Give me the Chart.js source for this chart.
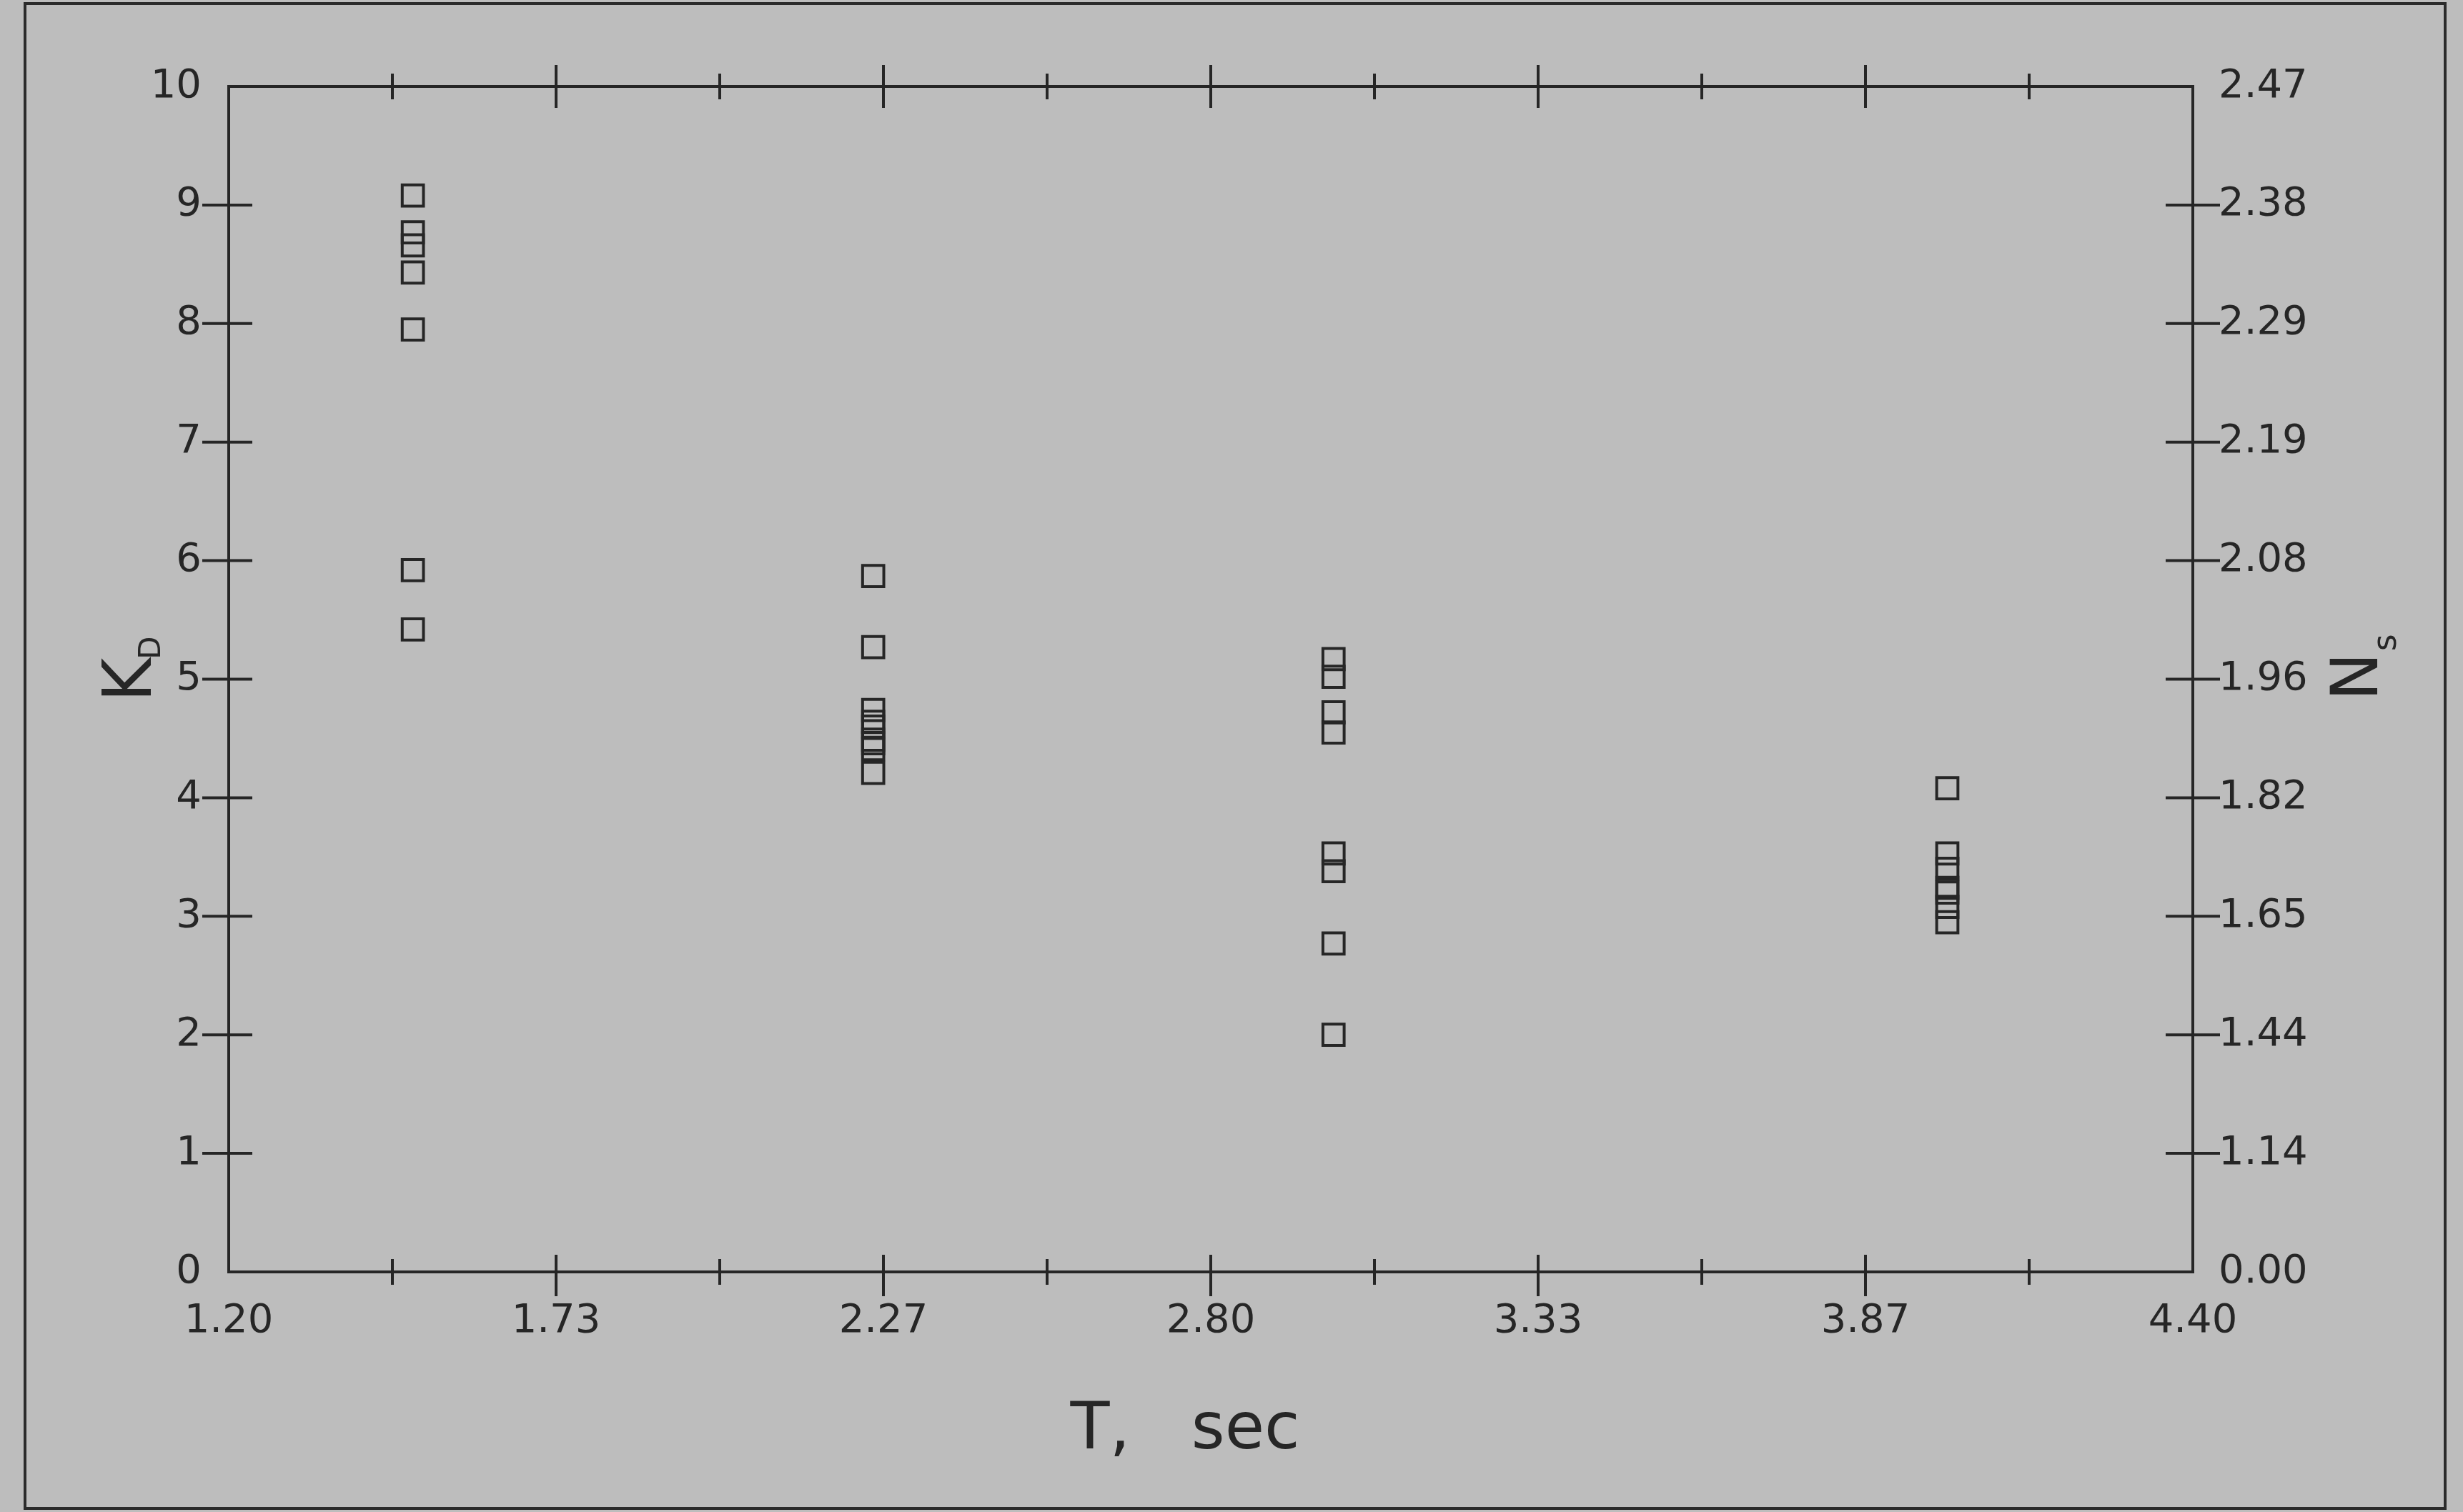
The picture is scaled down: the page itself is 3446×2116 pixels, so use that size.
<!DOCTYPE html>
<html>
<head>
<meta charset="utf-8">
<title>K_D and N_s against T</title>
<script src="https://cdn.jsdelivr.net/npm/chart.js@4.4.1/dist/chart.umd.min.js"></script>
<style>
  html, body { margin: 0; padding: 0; background: #bdbdbd; }
  #wrap { position: relative; width: 3446px; height: 2116px; overflow: hidden; }
  #frame {
    position: absolute; left: 33px; top: 3px; width: 3390px; height: 2110px;
    border: 4px solid #2b2b2b; box-sizing: border-box; pointer-events: none;
  }
  #plot { position: absolute; left: 0; top: 0; }
</style>
</head>
<body>
<div id="wrap">
  <canvas id="plot" width="3446" height="2116"></canvas>
  <div id="frame"></div>
</div>
<script>
/* ------------------------------------------------------------------ */
/*  Data                                            */
/* ------------------------------------------------------------------ */

// wave periods (sec) at which K_D was measured
var T_VALUES = [1.50, 2.25, 3.00, 4.00];

// K_D values in each column of squares
var KD_AT_150 = [9.08, 8.77, 8.66, 8.43, 7.95, 5.92, 5.42];
var KD_AT_225 = [5.87, 5.27, 4.74, 4.64, 4.60, 4.49, 4.46, 4.41, 4.21];
var KD_AT_300 = [5.17, 5.02, 4.72, 4.55, 3.53, 3.38, 2.77, 2.00];
var KD_AT_400 = [4.08, 3.53, 3.40, 3.24, 3.20, 3.08, 2.95];

// axis ranges and tick labels
var X_MIN = 1.20;
var X_MAX = 4.40;
var X_TICK_LABELS = ['1.20', '1.73', '2.27', '2.80', '3.33', '3.87', '4.40'];
var KD_MIN = 0;
var KD_MAX = 10;
var NS_TICK_LABELS = ['0.00', '1.14', '1.44', '1.65', '1.82', '1.96',
                      '2.08', '2.19', '2.29', '2.38', '2.47'];

/* ------------------------------------------------------------------ */
/*  Styling                                                           */
/* ------------------------------------------------------------------ */

var INK = '#262626';
var FONT = '"DejaVu Sans", "Liberation Sans", sans-serif';
var TICK_FONT = { family: FONT, size: 56 };

var MAJOR_TICK = 30;
var MINOR_TICK = 18;

/* ------------------------------------------------------------------ */
/*  Helpers                                                           */
/* ------------------------------------------------------------------ */

function toPoints(t, values) {
  return values.map(function (v) { return { x: t, y: v }; });
}

function squareDataset(t, values) {
  return {
    data: toPoints(t, values),
    pointStyle: 'rect',
    pointRadius: 21,
    pointBorderWidth: 4,
    pointBorderColor: INK,
    pointBackgroundColor: 'rgba(0,0,0,0)',
    showLine: false,
  };
}

function line(ctx, x1, y1, x2, y2) {
  ctx.beginPath();
  ctx.moveTo(x1, y1);
  ctx.lineTo(x2, y2);
  ctx.stroke();
}

/** Evenly spaced x tick values from X_MIN to X_MAX, one per label. */
function xTickValues() {
  var step = (X_MAX - X_MIN) / (X_TICK_LABELS.length - 1);
  return X_TICK_LABELS.map(function (_, i) { return X_MIN + i * step; });
}

/* ------------------------------------------------------------------ */
/*  Box, tick marks and axis titles                                   */
/* ------------------------------------------------------------------ */

var axisFramePlugin = {
  id: 'axisFrame',
  beforeDatasetsDraw: function (chart) {
    var ctx = chart.ctx;
    var a = chart.chartArea;
    var xs = chart.scales.x;
    var ys = chart.scales.y;

    ctx.save();
    ctx.strokeStyle = INK;
    ctx.lineWidth = 4;
    ctx.strokeRect(a.left, a.top, a.right - a.left, a.bottom - a.top);

    // x ticks, top and bottom, major at labels and minor half way
    var vals = xTickValues();
    for (var i = 0; i < vals.length - 1; i++) {
      var mid = xs.getPixelForValue((vals[i] + vals[i + 1]) / 2);
      line(ctx, mid, a.bottom - MINOR_TICK, mid, a.bottom + MINOR_TICK);
      line(ctx, mid, a.top - MINOR_TICK, mid, a.top + MINOR_TICK);
      if (i > 0) {
        var px = xs.getPixelForValue(vals[i]);
        line(ctx, px, a.bottom - MAJOR_TICK + 6, px, a.bottom + MAJOR_TICK + 4);
        line(ctx, px, a.top - MAJOR_TICK, px, a.top + MAJOR_TICK);
      }
    }

    // y ticks crossing both vertical axes
    for (var v = KD_MIN + 1; v < KD_MAX; v++) {
      var py = ys.getPixelForValue(v);
      line(ctx, a.left - 37, py, a.left + 33, py);
      line(ctx, a.right - 38, py, a.right + 38, py);
    }
    ctx.restore();
  },
  afterDraw: function (chart) {
    var ctx = chart.ctx;
    var a = chart.chartArea;
    ctx.save();
    ctx.fillStyle = INK;

    // x title
    ctx.font = '90px ' + FONT;
    ctx.textAlign = 'center';
    ctx.textBaseline = 'alphabetic';
    ctx.fillText('T,   sec', (a.left + a.right) / 2 - 36, a.bottom + 247);

    // left title K_D, reading upward
    ctx.textAlign = 'left';
    ctx.save();
    ctx.translate(a.left - 109, (a.top + a.bottom) / 2 + 32);
    ctx.rotate(-Math.PI / 2);
    ctx.font = '94px ' + FONT;
    ctx.fillText('K', 0, 0);
    var kw = ctx.measureText('K').width;
    ctx.font = '42px ' + FONT;
    ctx.fillText('D', kw - 2, 13);
    ctx.restore();

    // right title N_s, reading upward
    ctx.save();
    ctx.translate(a.right + 258, (a.top + a.bottom) / 2 + 30);
    ctx.rotate(-Math.PI / 2);
    ctx.font = '90px ' + FONT;
    ctx.fillText('N', 0, 0);
    var nw = ctx.measureText('N').width;
    ctx.font = '46px ' + FONT;
    ctx.fillText('s', nw + 2, 26);
    ctx.restore();

    ctx.restore();
  },
};

/* ------------------------------------------------------------------ */
/*  Chart                                                             */
/* ------------------------------------------------------------------ */

var datasets = [
  squareDataset(T_VALUES[0], KD_AT_150),
  squareDataset(T_VALUES[1], KD_AT_225),
  squareDataset(T_VALUES[2], KD_AT_300),
  squareDataset(T_VALUES[3], KD_AT_400),
];

new Chart(document.getElementById('plot').getContext('2d'), {
  type: 'scatter',
  data: { datasets: datasets },
  plugins: [axisFramePlugin],
  options: {
    responsive: false,
    devicePixelRatio: 1,
    animation: false,
    events: [],
    layout: { padding: { top: 121, left: 0, right: 0, bottom: 0 } },
    plugins: { legend: { display: false }, tooltip: { enabled: false } },
    scales: {
      x: {
        type: 'linear',
        position: 'bottom',
        min: X_MIN,
        max: X_MAX,
        grid: { display: false, drawTicks: false },
        border: { display: false },
        afterBuildTicks: function (axis) {
          axis.ticks = xTickValues().map(function (v) { return { value: v }; });
        },
        afterFit: function (axis) { axis.height = 336; },
        ticks: {
          color: INK,
          font: TICK_FONT,
          padding: 36,
          maxRotation: 0,
          autoSkip: false,
          callback: function (v, i) { return X_TICK_LABELS[i]; },
        },
      },
      y: {
        type: 'linear',
        position: 'left',
        min: KD_MIN,
        max: KD_MAX,
        grid: { display: false, drawTicks: false },
        border: { display: false },
        afterFit: function (axis) { axis.width = 320; },
        ticks: {
          stepSize: 1,
          color: INK,
          font: TICK_FONT,
          padding: 38,
          callback: function (v) { return String(v); },
        },
      },
      y2: {
        type: 'linear',
        position: 'right',
        min: KD_MIN,
        max: KD_MAX,
        grid: { display: false, drawTicks: false },
        border: { display: false },
        afterFit: function (axis) { axis.width = 378; },
        ticks: {
          stepSize: 1,
          color: INK,
          font: TICK_FONT,
          padding: 36,
          callback: function (v, i) { return NS_TICK_LABELS[i]; },
        },
      },
    },
  },
});
</script>
</body>
</html>
